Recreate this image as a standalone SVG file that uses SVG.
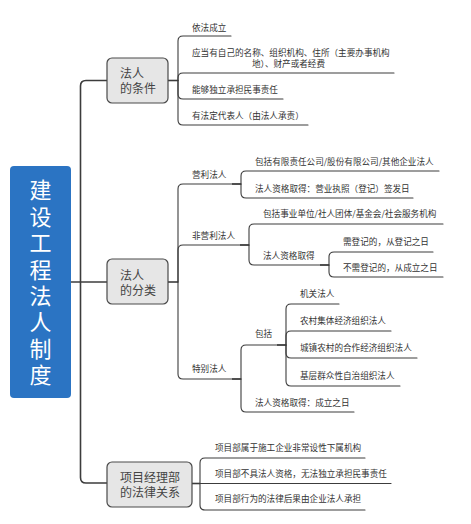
<svg xmlns="http://www.w3.org/2000/svg" width="471" height="524" viewBox="0 0 471 524">
<style>
.c{fill:none;stroke:#3c3c3c;stroke-width:1.1;stroke-linecap:round}
.m{fill:none;stroke:#3c3c3c;stroke-width:1.6}
.t{font-family:"Noto Sans CJK SC","Noto Sans",sans-serif;font-size:8.6px;fill:#333}
.b{font-family:"Noto Sans CJK SC","Noto Sans",sans-serif;font-size:12px;fill:#444}
.box{fill:#e6e6e6;stroke:#4a4a4a;stroke-width:1.2}
.r{font-family:"Noto Sans CJK SC","Noto Sans",sans-serif;font-size:22px;fill:#fff;writing-mode:vertical-rl;letter-spacing:4.4px}
</style>
<rect width="471" height="524" fill="#fff"/>
<g id="connectors">
<path class="m" d="M71 282 H107"/>
<path class="m" d="M80.5 282 V86 Q80.5 80.5 86 80.5 H107"/>
<path class="m" d="M80.5 282 V477.5 Q80.5 483 86 483 H107"/>
<path class="m" d="M168 80.5 H178"/>
<path class="c" d="M178 80.5 V41 Q178 36 183 36 H231"/>
<path class="c" d="M178 80.5 V78 Q178 73 183 73 H394"/>
<path class="c" d="M178 80.5 V94 Q178 99 183 99 H283"/>
<path class="c" d="M178 80.5 V120 Q178 125 183 125 H308"/>
<path class="m" d="M168 282 H178"/>
<path class="c" d="M178 282 V189 Q178 184 183 184 H241"/>
<path class="c" d="M178 282 V250 Q178 245 183 245 H249"/>
<path class="c" d="M178 282 V374 Q178 379 183 379 H241"/>
<path class="m" d="M232 184 H241"/>
<path class="c" d="M241 184 V176 Q241 171 246 171 H439"/>
<path class="c" d="M241 184 V193 Q241 198 246 198 H413"/>
<path class="m" d="M240 245 H249"/>
<path class="c" d="M249 245 V229 Q249 224 254 224 H443"/>
<path class="c" d="M249 245 V260 Q249 265 254 265 H329"/>
<path class="m" d="M320 265 H329"/>
<path class="c" d="M329 265 V257 Q329 252 334 252 H433"/>
<path class="c" d="M329 265 V272 Q329 277 334 277 H443"/>
<path class="m" d="M232 379 H241"/>
<path class="c" d="M241 379 V350 Q241 345 246 345 H286"/>
<path class="c" d="M241 379 V407 Q241 412 246 412 H354"/>
<path class="m" d="M277 345 H286"/>
<path class="c" d="M286 345 V309 Q286 304 291 304 H339"/>
<path class="c" d="M286 345 V336 Q286 331 291 331 H391"/>
<path class="c" d="M286 345 V353 Q286 358 291 358 H417"/>
<path class="c" d="M286 345 V381 Q286 386 291 386 H400"/>
<path class="m" d="M192 483.5 H200"/>
<path class="c" d="M200 483.5 V463 Q200 458 205 458 H365"/>
<path class="c" d="M200 483.5 H391"/>
<path class="c" d="M200 483.5 V505 Q200 510 205 510 H365"/>
</g>
<g id="root">
<rect x="10" y="166" width="61" height="232" rx="4" fill="#2b74c3"/>
<text class="r" x="40.5" y="179">建设工程法人制度</text>
</g>
<g id="n-tiaojian">
<rect class="box" x="107" y="58" width="61" height="45" rx="5"/>
<text class="b"><tspan x="120" y="78">法人</tspan><tspan x="120" y="93">的条件</tspan></text>
</g>
<g id="n-tiaojian-1"><text class="t" x="192" y="30.5">依法成立</text></g>
<g id="n-tiaojian-2">
<text class="t"><tspan x="192" y="55.5">应当有自己的名称、组织机构、住所（主要办事机构</tspan><tspan x="252" y="66.5">地）、财产或者经费</tspan></text>
</g>
<g id="n-tiaojian-3"><text class="t" x="192" y="92.5">能够独立承担民事责任</text></g>
<g id="n-tiaojian-4"><text class="t" x="192" y="118.5">有法定代表人（由法人承责）</text></g>
<g id="n-fenlei">
<rect class="box" x="107" y="259" width="61" height="45" rx="5"/>
<text class="b"><tspan x="120" y="279.5">法人</tspan><tspan x="120" y="294.5">的分类</tspan></text>
</g>
<g id="n-yingli"><text class="t" x="192" y="178">营利法人</text></g>
<g id="n-yingli-1"><text class="t" x="255" y="164.5">包括有限责任公司/股份有限公司/其他企业法人</text></g>
<g id="n-yingli-2"><text class="t" x="255" y="191.5">法人资格取得：营业执照（登记）签发日</text></g>
<g id="n-feiyingli"><text class="t" x="192" y="238.5">非营利法人</text></g>
<g id="n-feiyingli-1"><text class="t" x="263" y="216.5">包括事业单位/社人团体/基金会/社会服务机构</text></g>
<g id="n-feiyingli-2"><text class="t" x="263" y="258.5">法人资格取得</text></g>
<g id="n-feiyingli-2a"><text class="t" x="343" y="244.5">需登记的，从登记之日</text></g>
<g id="n-feiyingli-2b"><text class="t" x="343" y="270.5">不需登记的，从成立之日</text></g>
<g id="n-tebie"><text class="t" x="192" y="371.5">特别法人</text></g>
<g id="n-baokuo"><text class="t" x="255" y="336.5">包括</text></g>
<g id="n-baokuo-1"><text class="t" x="300" y="296.5">机关法人</text></g>
<g id="n-baokuo-2"><text class="t" x="300" y="324">农村集体经济组织法人</text></g>
<g id="n-baokuo-3"><text class="t" x="300" y="351">城镇农村的合作经济组织法人</text></g>
<g id="n-baokuo-4"><text class="t" x="300" y="378.5">基层群众性自治组织法人</text></g>
<g id="n-tebie-2"><text class="t" x="255" y="406">法人资格取得：成立之日</text></g>
<g id="n-xiangmu">
<rect class="box" x="107" y="462" width="85" height="45" rx="5"/>
<text class="b"><tspan x="120" y="481.5">项目经理部</tspan><tspan x="120" y="496.5">的法律关系</tspan></text>
</g>
<g id="n-xiangmu-1"><text class="t" x="215" y="451">项目部属于施工企业非常设性下属机构</text></g>
<g id="n-xiangmu-2"><text class="t" x="215" y="476.5">项目部不具法人资格，无法独立承担民事责任</text></g>
<g id="n-xiangmu-3"><text class="t" x="215" y="502">项目部行为的法律后果由企业法人承担</text></g>
</svg>
